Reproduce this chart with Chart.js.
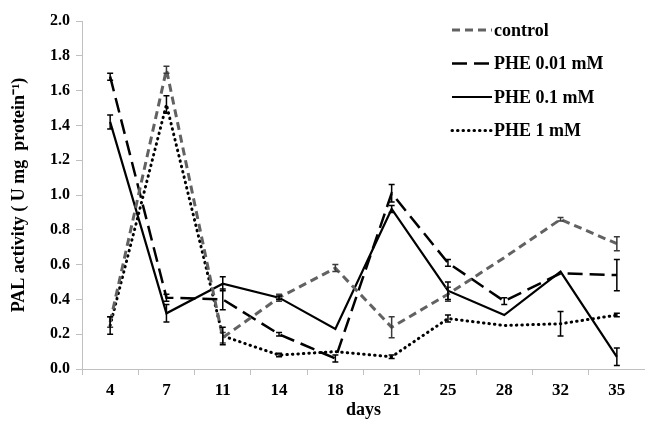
<!DOCTYPE html>
<html>
<head>
<meta charset="utf-8">
<script src="https://cdn.jsdelivr.net/npm/chart.js@4/dist/chart.umd.min.js"></script>
<style>
    html, body { margin: 0; padding: 0; background: #ffffff; }
    #wrap { width: 645px; height: 421px; }
</style>
</head>
<body>
<div id="wrap"><canvas id="pal-chart"></canvas></div>
<script>
"use strict";

// Dagen op de x-as en de vier behandelingen.
const days = ["4", "7", "11", "14", "18", "21", "25", "28", "32", "35"];
const seriesNames = ["control", "PHE 0.01 mM", "PHE 0.1 mM", "PHE 1 mM"];

// Gemiddelden (U mg protein-1).
const controlValues = [0.27, 1.72, 0.18, 0.41, 0.58, 0.24, 0.43, 0.64, 0.86, 0.72];
const phe001Values = [1.68, 0.41, 0.40, 0.20, 0.06, 1.01, 0.61, 0.39, 0.55, 0.54];
const phe01Values = [1.42, 0.32, 0.49, 0.41, 0.23, 0.92, 0.45, 0.31, 0.56, 0.07];
const phe1Values = [0.25, 1.52, 0.19, 0.08, 0.10, 0.07, 0.29, 0.25, 0.26, 0.31];

// Foutbalken (halve lengte).
const controlErrors = [0.03, 0.02, 0.03, 0.02, 0.02, 0.06, 0.04, 0, 0.01, 0.04];
const phe001Errors = [0.02, 0.02, 0.06, 0.01, 0.02, 0.05, 0.02, 0.02, 0, 0.09];
const phe01Errors = [0.04, 0.05, 0.04, 0.01, 0, 0.02, 0.05, 0, 0, 0.05];
const phe1Errors = [0.05, 0.05, 0.05, 0.01, 0, 0.01, 0.02, 0, 0.07, 0.01];

// Y-as ticks.
const yMin = 0;
const yMax = 2.0;
const yStep = 0.2;

const serifFont = "'Liberation Serif', 'Times New Roman', serif";

// Teken foutbalken met kapjes via de schalen van de grafiek.
const errorBars = {
    id: "errorBars",
    afterDatasetsDraw(chart, args, options) {
        const ctx = chart.ctx;
        const yScale = chart.scales.y;
        chart.data.datasets.forEach((dataset, i) => {
            const meta = chart.getDatasetMeta(i);
            const errors = dataset.errors || [];
            ctx.save();
            ctx.strokeStyle = dataset.errorColor || "#000000";
            ctx.lineWidth = options.lineWidth;
            ctx.setLineDash([]);
            meta.data.forEach((point, j) => {
                const err = errors[j];
                if (!err) {
                    return;
                }
                const value = dataset.data[j];
                const top = yScale.getPixelForValue(value + err);
                const bottom = yScale.getPixelForValue(value - err);
                const x = point.x;
                ctx.beginPath();
                ctx.moveTo(x, top);
                ctx.lineTo(x, bottom);
                ctx.moveTo(x - options.capWidth, top);
                ctx.lineTo(x + options.capWidth, top);
                ctx.moveTo(x - options.capWidth, bottom);
                ctx.lineTo(x + options.capWidth, bottom);
                ctx.stroke();
            });
            ctx.restore();
        });
    }
};

// Eigen legenda rechtsboven, met dezelfde lijnstijlen als de datasets.
const sideLegend = {
    id: "sideLegend",
    afterDraw(chart, args, options) {
        const ctx = chart.ctx;
        ctx.save();
        chart.data.datasets.forEach((dataset, i) => {
            const y = options.top + i * options.rowHeight;
            ctx.strokeStyle = dataset.borderColor;
            ctx.lineWidth = dataset.borderWidth;
            ctx.lineCap = dataset.borderCapStyle || "butt";
            ctx.setLineDash(dataset.borderDash || []);
            ctx.beginPath();
            ctx.moveTo(options.left, y);
            ctx.lineTo(options.left + options.sampleWidth, y);
            ctx.stroke();

            ctx.setLineDash([]);
            ctx.fillStyle = "#000000";
            ctx.font = options.font;
            ctx.textAlign = "left";
            ctx.textBaseline = "middle";
            ctx.fillText(dataset.label, options.left + options.sampleWidth + 2, y + 1);
        });
        ctx.restore();
    }
};

const data = {
    labels: days,
    datasets: [
        {
            label: seriesNames[0],
            data: controlValues,
            errors: controlErrors,
            errorColor: "#3a3a3a",
            borderColor: "#626262",
            borderWidth: 3,
            borderDash: [8, 5]
        },
        {
            label: seriesNames[1],
            data: phe001Values,
            errors: phe001Errors,
            borderColor: "#000000",
            borderWidth: 2.5,
            borderDash: [15, 7]
        },
        {
            label: seriesNames[2],
            data: phe01Values,
            errors: phe01Errors,
            borderColor: "#000000",
            borderWidth: 2.2
        },
        {
            label: seriesNames[3],
            data: phe1Values,
            errors: phe1Errors,
            borderColor: "#000000",
            borderWidth: 3,
            borderDash: [0.5, 5],
            borderCapStyle: "round"
        }
    ]
};

const config = {
    type: "line",
    data: data,
    options: {
        responsive: true,
        maintainAspectRatio: false,
        animation: false,
        events: [],
        layout: {
            padding: { top: 21, right: 0, bottom: 0, left: 0 }
        },
        elements: {
            line: { tension: 0, fill: false },
            point: { radius: 0, hoverRadius: 0 }
        },
        scales: {
            x: {
                type: "category",
                offset: true,
                afterFit(scale) { scale.height = 52; },
                title: {
                    display: true,
                    text: "days",
                    color: "#000000",
                    font: { family: serifFont, size: 18, weight: "bold" },
                    padding: { top: 0, bottom: 0 }
                },
                ticks: {
                    color: "#000000",
                    padding: 5,
                    maxRotation: 0,
                    font: { family: serifFont, size: 17, weight: "bold" }
                },
                grid: {
                    offset: true,
                    drawOnChartArea: false,
                    drawTicks: true,
                    tickLength: 6,
                    color: "#c0c0c0"
                },
                border: { display: true, color: "#c0c0c0", width: 1 }
            },
            y: {
                min: yMin,
                max: yMax,
                afterFit(scale) { scale.width = 82; },
                title: {
                    display: true,
                    text: "PAL activity ( U mg  protein\u207B\u00B9)",
                    color: "#000000",
                    font: { family: serifFont, size: 18, weight: "bold" },
                    padding: { top: 9, bottom: 0 }
                },
                ticks: {
                    stepSize: yStep,
                    color: "#000000",
                    padding: 6,
                    font: { family: serifFont, size: 16, weight: "bold" },
                    callback(value) { return value.toFixed(1); }
                },
                grid: {
                    drawOnChartArea: false,
                    drawTicks: true,
                    tickLength: 6,
                    color: "#c0c0c0"
                },
                border: { display: true, color: "#c0c0c0", width: 1 }
            }
        },
        plugins: {
            legend: { display: false },
            tooltip: { enabled: false },
            errorBars: {
                lineWidth: 1.5,
                capWidth: 3
            },
            sideLegend: {
                left: 452,
                top: 30,
                rowHeight: 33.5,
                sampleWidth: 40,
                font: "bold 18px " + serifFont
            }
        }
    },
    plugins: [errorBars, sideLegend]
};

new Chart(document.getElementById("pal-chart"), config);
</script>
</body>
</html>
